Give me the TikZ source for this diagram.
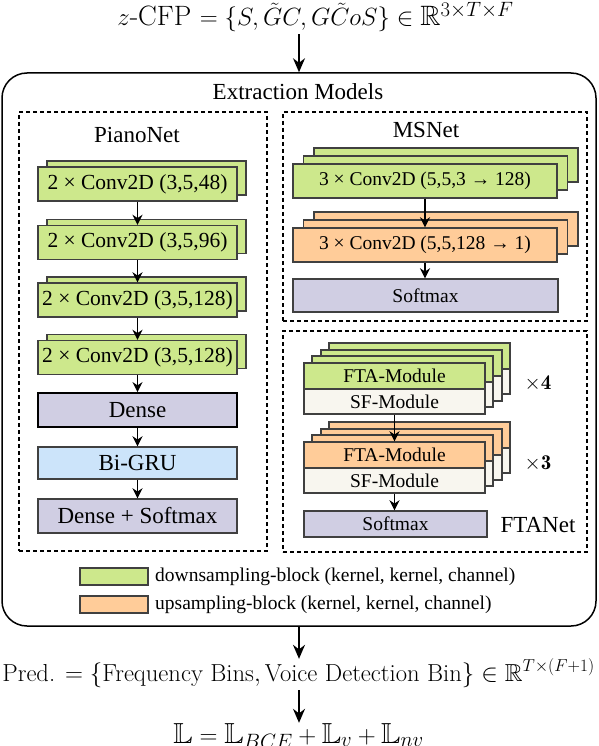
\documentclass[tikz,border=0pt]{standalone}
\usepackage{amsmath,amssymb}
\usepackage{fontspec}
\newfontfamily\tms{Liberation Serif}
\usetikzlibrary{arrows.meta,shadows}
\definecolor{downgreen}{HTML}{CDE88C}
\definecolor{uporange}{HTML}{FFCC99}
\definecolor{lavender}{HTML}{D0CEE3}
\definecolor{grublue}{HTML}{CCE4FA}
\definecolor{sfcream}{HTML}{F8F6EF}
\definecolor{edgegray}{HTML}{404040}
\begin{document}
\begin{tikzpicture}[x=1pt,y=-1pt,
  blk/.style={draw=edgegray,line width=1.4pt,inner sep=0pt,font=\tms\fontsize{19.5}{22}\selectfont},
  conv/.style={blk,fill=downgreen,minimum width=199pt,minimum height=34pt,
    font=\tms\fontsize{21.5}{24}\selectfont,copy shadow={shadow xshift=9pt,shadow yshift=6pt}},
  pblk/.style={blk,minimum width=199pt,minimum height=34pt,font=\tms\fontsize{23}{26}\selectfont},
  msblk/.style={blk,minimum width=264pt,minimum height=34pt,
    copy shadow={shadow xshift=21pt,shadow yshift=16pt},copy shadow={shadow xshift=10.5pt,shadow yshift=8pt}},
  fta/.style={blk,minimum width=181pt,minimum height=26pt},
  sf/.style={blk,fill=sfcream,minimum width=181pt,minimum height=25pt},
  frame/.style={draw,line width=1.1pt,dash pattern=on 4pt off 3pt,inner sep=0pt},
  lbl/.style={font=\tms\fontsize{23}{26}\selectfont,inner sep=0pt},
  arr/.style={-{Stealth[length=10pt,width=10pt]},line width=1.7pt},
  bigarr/.style={-{Stealth[length=14pt,width=12pt]},line width=1.8pt}]
  \useasboundingbox (0,0) rectangle (598,746);

  % input and outer frame
  \node [anchor=base,inner sep=0pt,font=\fontsize{28}{33}\selectfont] (cfp) at (315.5,26)
    {$z$-CFP $=\{S,\tilde{G}C,G\tilde{C}oS\}\in\mathbb{R}^{3\times T\times F}$};
  \node [draw,line width=1.5pt,rounded corners=25pt,minimum width=594pt,minimum height=553pt,inner sep=0pt] (ext) at (299,349.5) {};
  \node [lbl] (extlbl) at (298,92) {Extraction Models};

  % PianoNet
  \node [frame,minimum width=248pt,minimum height=439pt] (pianobox) at (143,331.5) {};
  \node [lbl] (pianolbl) at (137,135) {PianoNet};
  \node [conv] (p1) at (137.5,184) {2 × Conv2D (3,5,48)};
  \node [conv] (p2) at (137.5,242.5) {2 × Conv2D (3,5,96)};
  \node [conv] (p3) at (137.5,300) {2 × Conv2D (3,5,128)};
  \node [conv] (p4) at (137.5,357.5) {2 × Conv2D (3,5,128)};
  \node [pblk,fill=lavender,draw=black,line width=1.8pt] (dense) at (137.5,410) {Dense};
  \node [pblk,fill=grublue,minimum height=32pt] (gru) at (137.5,463) {Bi-GRU};
  \node [pblk,fill=lavender] (dsm) at (137.5,516) {Dense + Softmax};
  \draw [arr] (p1) -- (p2);
  \draw [arr] (p2) -- (p3);
  \draw [arr] (p3) -- (p4);
  \draw [arr] (p4) -- (dense);
  \draw [arr] (dense) -- (gru);
  \draw [arr] (gru) -- (dsm);

  % MSNet
  \node [frame,minimum width=304pt,minimum height=209pt] (msbox) at (435,216.5) {};
  \node [lbl] (mslbl) at (426,130) {MSNet};
  \node [msblk,fill=downgreen] (ms1) at (425,181) {3 × Conv2D (5,5,3 → 128)};
  \node [msblk,fill=uporange] (ms2) at (425,245) {3 × Conv2D (5,5,128 → 1)};
  \node [blk,fill=lavender,minimum width=265pt,minimum height=33pt] (mssm) at (425.5,295.5) {Softmax};
  \draw [arr] (ms1) -- (ms2);
  \draw [arr] (ms2.south) -- (mssm.north -| ms2.south);

  % FTANet
  \node [frame,minimum width=304pt,minimum height=221pt] (ftabox) at (435,441.5) {};
  \node [fta,fill=downgreen] (ga3) at (419.5,356) {};
  \node [sf] (gb3) at (419.5,381.5) {};
  \node [fta,fill=downgreen] (ga2) at (411.5,363) {};
  \node [sf] (gb2) at (411.5,388.5) {};
  \node [fta,fill=downgreen] (ga1) at (402.5,369) {};
  \node [sf] (gb1) at (402.5,394.5) {};
  \node [fta,fill=downgreen] (ga0) at (394.5,376) {FTA-Module};
  \node [sf] (gb0) at (394.5,401.5) {SF-Module};
  \node [fta,fill=uporange] (oa3) at (419.5,435) {};
  \node [sf] (ob3) at (419.5,460.5) {};
  \node [fta,fill=uporange] (oa2) at (411.5,442) {};
  \node [sf] (ob2) at (411.5,467.5) {};
  \node [fta,fill=uporange] (oa1) at (402.5,448) {};
  \node [sf] (ob1) at (402.5,473.5) {};
  \node [fta,fill=uporange] (oa0) at (394.5,455) {FTA-Module};
  \node [sf] (ob0) at (394.5,480.5) {SF-Module};
  \node [blk,fill=lavender,minimum width=183pt,minimum height=26pt] (ftasm) at (395.5,524) {Softmax};
  \node [inner sep=0pt,font=\fontsize{21}{24}\selectfont] (rep4) at (538,383) {$\times\mathbf{4}$};
  \node [inner sep=0pt,font=\fontsize{21}{24}\selectfont] (rep3) at (538,463) {$\times\mathbf{3}$};
  \node [lbl] (ftalbl) at (538,525) {FTANet};
  \draw [arr] (gb0) -- (oa0);
  \draw [arr] (ob0.south) -- (ftasm.north -| ob0.south);

  % legend
  \node [blk,fill=downgreen,minimum width=68pt,minimum height=17pt] (lgdown) at (114,576.5) {};
  \node [blk,fill=uporange,minimum width=68pt,minimum height=17pt] (lgup) at (114,604.5) {};
  \node [anchor=west,inner sep=0pt,font=\tms\fontsize{19.5}{22}\selectfont] (lgdowntxt) at (155,576.5) {downsampling-block (kernel, kernel, channel)};
  \node [anchor=west,inner sep=0pt,font=\tms\fontsize{19.5}{22}\selectfont] (lguptxt) at (155,604.5) {upsampling-block (kernel, kernel, channel)};

  % outputs
  \node [anchor=base,inner sep=0pt,font=\fontsize{24.6}{29}\selectfont] (pred) at (298.5,681)
    {Pred. $=\{\text{Frequency Bins},\text{Voice Detection Bin}\}\in\mathbb{R}^{T\times(F+1)}$};
  \node [anchor=base,inner sep=0pt,font=\fontsize{29}{35}\selectfont] (loss) at (298.5,743)
    {$\mathbb{L}=\mathbb{L}_{BCE}+\mathbb{L}_{v}+\mathbb{L}_{nv}$};
  \draw [bigarr] (ext.north |- cfp.south) ++(0,2) -- (ext.north);
  \draw [bigarr] (ext.south) -- (ext.south |- pred.north);
  \draw [bigarr] (ext.south |- pred.south) ++(0,3) -- (ext.south |- loss.north);
\end{tikzpicture}
\end{document}
